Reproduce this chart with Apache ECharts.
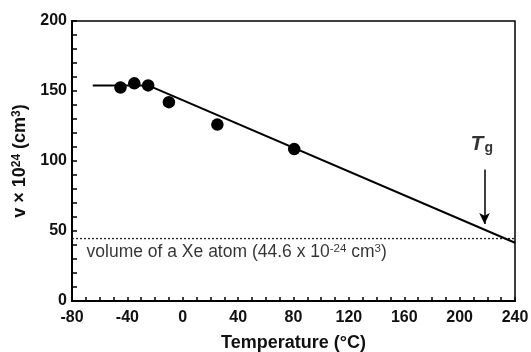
<!DOCTYPE html>
<html><head><meta charset="utf-8">
<script src="https://cdn.jsdelivr.net/npm/echarts@6/dist/echarts.min.js"></script>
<style>html,body{margin:0;padding:0;background:#fff}#c{width:531px;height:352px}</style>
</head><body><div id="c"></div>
<script>
// Data
var pointsX = [-45, -35, -25, -10, 25, 80.5];
var pointsY = [152.5, 155.5, 154, 142, 126, 108.5];
var fitX = [-65, -25, 240];
var fitY = [154, 154, 41.6];
var xeVolume = 44.6;
var xRange = [-80, 240];
var tgX = 218;
var arrowY = [94, 55];
var tgLabelPos = [216, 112];
var xeLabelPos = [-69.5, 35];

var font = 'Liberation Sans, Arial, sans-serif';
var chart = echarts.init(document.getElementById('c'));
chart.setOption({
  animation: false,
  backgroundColor: '#fff',
  grid: {left: 72, right: 16, top: 21, bottom: 51, show: true, borderColor: '#000', borderWidth: 1.5,
         containLabel: false, outerBoundsMode: 'none'},
  xAxis: {
    type: 'value', min: -80, max: 240, interval: 40,
    name: 'Temperature (°C)', nameLocation: 'middle', nameGap: 33,
    nameTextStyle: {fontFamily: font, fontSize: 18, fontWeight: 'bold', color: '#111'},
    axisLine: {onZero: false, lineStyle: {color: '#000', width: 2}},
    axisTick: {inside: true, length: 4, lineStyle: {color: '#000', width: 1.5}},
    minorTick: {show: true, splitNumber: 4, length: 4, lineStyle: {color: '#000', width: 1.5}},
    splitLine: {show: false},
    axisLabel: {fontFamily: font, fontSize: 16, fontWeight: 'bold', color: '#111', margin: 9}
  },
  yAxis: {
    type: 'value', min: 0, max: 200, interval: 50,
    name: '{b|v × 10}{s|24}{b| (cm}{s|3}{b|)}', nameLocation: 'middle', nameGap: 42,
    nameTextStyle: {
      rich: {
        b: {fontFamily: font, fontSize: 18, fontWeight: 'bold', color: '#111'},
        s: {fontFamily: font, fontSize: 12, fontWeight: 'bold', color: '#111', verticalAlign: 'top', padding: [0,0,7,0]}
      }
    },
    axisLine: {onZero: false, lineStyle: {color: '#000', width: 2}},
    axisTick: {inside: true, length: 5, lineStyle: {color: '#000', width: 1.5}},
    minorTick: {show: true, splitNumber: 5, length: 5, lineStyle: {color: '#000', width: 1.5}},
    splitLine: {show: false},
    axisLabel: {fontFamily: font, fontSize: 16, fontWeight: 'bold', color: '#111', margin: 5}
  },
  series: [
    {
      type: 'line', data: fitX.map(function(x, i){return [x, fitY[i]];}),
      symbol: 'none', lineStyle: {color: '#000', width: 2}, z: 2,
      markLine: {
        silent: true, symbol: ['none', 'arrow'], symbolSize: [8, 11],
        label: {show: false},
        lineStyle: {color: '#000', width: 1.5, type: 'solid'},
        data: [[{coord: [tgX, arrowY[0]]}, {coord: [tgX, arrowY[1]]}]]
      }
    },
    {
      type: 'line', data: [[xRange[0], xeVolume], [xRange[1], xeVolume]],
      symbol: 'none', lineStyle: {color: '#222', width: 1.3, type: [2, 2]}, z: 1
    },
    {
      type: 'scatter', data: pointsX.map(function(x, i){return [x, pointsY[i]];}),
      symbolSize: 12.5, itemStyle: {color: '#000', opacity: 1}, z: 3
    },
    {
      type: 'scatter', data: [tgLabelPos], symbolSize: 0, silent: true,
      label: {show: true, position: 'inside', formatter: '{t|T}{g|g}',
        rich: {
          t: {fontFamily: font, fontSize: 21, fontWeight: 'bold', fontStyle: 'italic', color: '#000'},
          g: {fontFamily: font, fontSize: 14, fontWeight: 'bold', color: '#000', verticalAlign: 'bottom', padding: [8,0,0,1]}
        }}
    },
    {
      type: 'scatter', data: [xeLabelPos], symbolSize: 0, silent: true,
      label: {show: true, position: 'right', distance: 0,
        formatter: '{a|volume of a Xe atom (44.6 x 10}{s|-24}{a| cm}{s|3}{a|)}',
        rich: {
          a: {fontFamily: font, fontSize: 17.5, color: '#000'},
          s: {fontFamily: font, fontSize: 11.5, color: '#000', verticalAlign: 'top', padding: [0,0,7,0]}
        }}
    }
  ]
});
</script></body></html>
